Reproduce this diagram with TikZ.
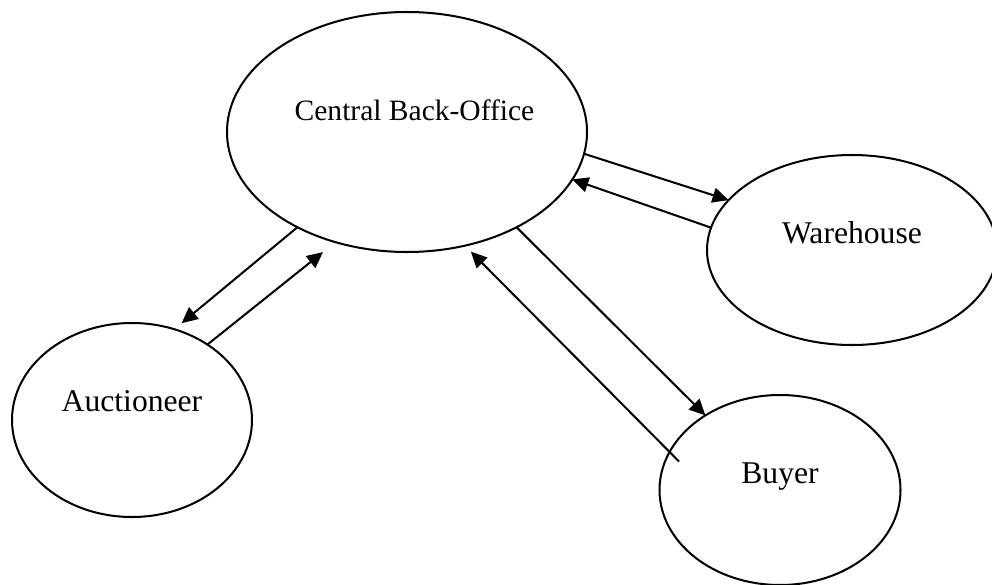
\documentclass[tikz,border=0pt]{standalone}
\usepackage{fontspec}
\setmainfont{Liberation Serif}
\usetikzlibrary{arrows.meta,shapes.geometric}
\begin{document}
\begin{tikzpicture}[
  party/.style={draw, ellipse, line width=1.15pt, outer sep=0pt, inner sep=0pt},
  lbl/.style={anchor=base, font=\fontsize{18}{21}\selectfont},
  link/.style={line width=1.15pt, -{Triangle[length=3.2mm,width=3mm]}}
]
\useasboundingbox (0,0) rectangle (19.84,11.68);
\node[party, minimum width=7.2cm, minimum height=4.8cm] (office) at (8.14,9.04) {};
\node[party, minimum width=5.8cm, minimum height=3.8cm] (warehouse) at (17.04,6.68) {};
\node[party, minimum width=4.8cm, minimum height=3.88cm] (auctioneer) at (2.64,3.28) {};
\node[party, minimum width=4.82cm, minimum height=3.8cm] (buyer) at (15.6,1.88) {};
\node[lbl, font=\fontsize{16.8}{20}\selectfont] (officetext) at (8.29,9.28) {Central Back-Office};
\node[lbl] (warehousetext) at (17.04,6.82) {Warehouse};
\node[lbl] (auctioneertext) at (2.64,3.46) {Auctioneer};
\node[lbl] (buyertext) at (15.6,2.02) {Buyer};
\draw[link] (office.-7.3) -- (warehouse.158.9);
\draw[link] (warehouse.171.3) -- (office.-16.8);
\draw[link, shorten >=0.19cm] (office.221.4) -- (auctioneer.65.4);
\draw[link, shorten >=0.32cm] (auctioneer.45) -- (office.237);
\draw[link] (office.-41.1) -- (buyer.135.4);
\draw[link, shorten <=-0.27cm, shorten >=0.17cm] (buyer.161.8) -- (office.-63.8);
\end{tikzpicture}
\end{document}
